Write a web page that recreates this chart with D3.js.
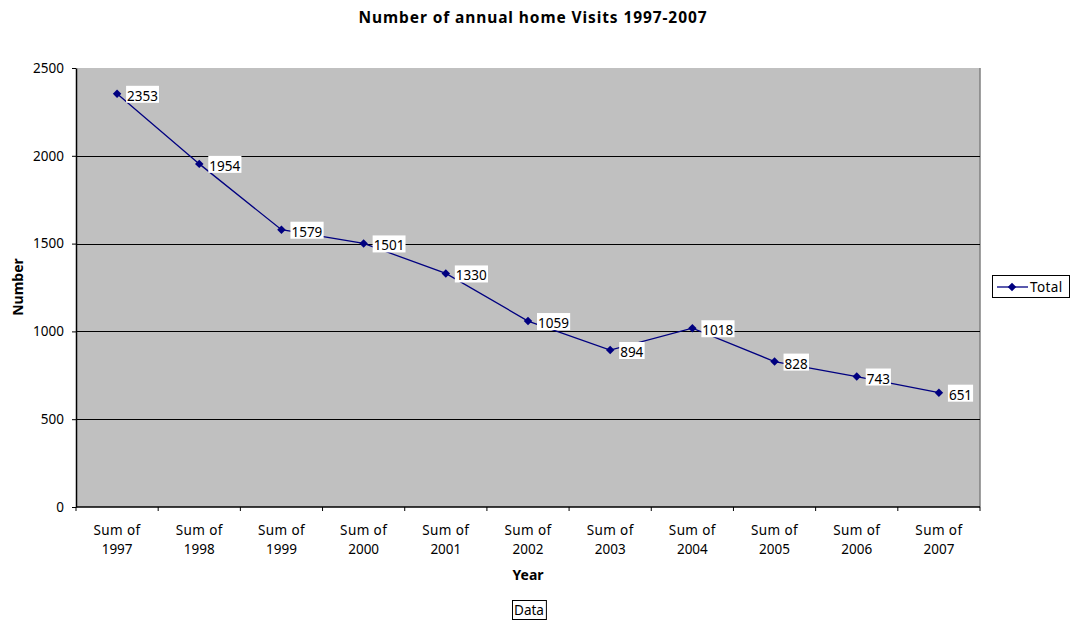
<!DOCTYPE html>
<html><head><meta charset="utf-8">
<script src="https://cdn.jsdelivr.net/npm/d3@7"></script>
<style>body{margin:0;background:#fff;}svg{display:block;font-family:"Noto Sans","DejaVu Sans",sans-serif;}</style>
</head><body>
<svg id="c" width="1074" height="622"></svg>
<script>
const categories = ["Sum of 1997","Sum of 1998","Sum of 1999","Sum of 2000","Sum of 2001","Sum of 2002","Sum of 2003","Sum of 2004","Sum of 2005","Sum of 2006","Sum of 2007"];
const totals = [2353,1954,1579,1501,1330,1059,894,1018,828,743,651];
const yTicks = [0,500,1000,1500,2000,2500];
const seriesName = "Total";

const FS = 13.5;
const svg = d3.select("#c");
const L=76, R=980, T=68, B=507;
const x = d3.scaleBand().domain(categories).range([L,R]);
const y = d3.scaleLinear().domain([0,2500]).range([B,T]);

svg.append("rect").attr("x",L).attr("y",T).attr("width",R-L).attr("height",B-T).attr("fill","#c0c0c0");
svg.append("line").attr("x1",R).attr("x2",R).attr("y1",T).attr("y2",B).attr("stroke","#808080").attr("stroke-width",1.5);

svg.append("g").selectAll("line").data(yTicks.filter(d=>d>0 && d<2500)).join("line")
  .attr("x1",L).attr("x2",R).attr("y1",d=>Math.round(y(d))+0.5).attr("y2",d=>Math.round(y(d))+0.5)
  .attr("stroke","#000").attr("stroke-width",1);

const ya = svg.append("g").attr("transform",`translate(${L},0)`)
  .call(d3.axisLeft(y).tickValues(yTicks).tickSize(4).tickPadding(8).tickSizeOuter(0).tickFormat(d3.format("d")));
ya.select(".domain").attr("stroke","#000").attr("stroke-width",1.5);
ya.selectAll("text").attr("font-size",FS).attr("fill","#000").attr("font-family","Noto Sans");

const xa = svg.append("g").attr("transform",`translate(0,${B})`);
xa.append("line").attr("x1",L).attr("x2",R).attr("y1",0).attr("y2",0).attr("stroke","#000").attr("stroke-width",1.5);
const bounds = categories.map(c=>x(c)).concat([R]);
xa.selectAll("line.t").data(bounds).join("line").attr("class","t")
  .attr("x1",d=>d).attr("x2",d=>d).attr("y1",0).attr("y2",4).attr("stroke","#000");
const lbl = xa.selectAll("text.c").data(categories).join("text").attr("class","c")
  .attr("text-anchor","middle").attr("font-size",FS).attr("fill","#000")
  .attr("transform",d=>`translate(${x(d)+x.bandwidth()/2},0)`);
lbl.each(function(d){
  const parts = d.split(" ");
  const t = d3.select(this);
  t.append("tspan").attr("x",0).attr("y",28).attr("letter-spacing",0.4).text(parts.slice(0,2).join(" "));
  t.append("tspan").attr("x",0).attr("y",47).text(parts[2]);
});

const cx = d=>x(d)+x.bandwidth()/2;
const line = d3.line().x((d,i)=>cx(categories[i])).y(d=>y(d));
svg.append("path").datum(totals).attr("d",line).attr("fill","none").attr("stroke","#000080").attr("stroke-width",1.3);
const marker = d3.symbol().type(d3.symbolSquare).size(36);
svg.append("g").selectAll("path").data(totals).join("path")
  .attr("d",marker)
  .attr("transform",(d,i)=>`translate(${cx(categories[i])},${y(d)}) rotate(45)`).attr("fill","#000080");

const lg = svg.append("g");
totals.forEach((v,i)=>{
  const px = cx(categories[i])+10, py = y(v);
  const g = lg.append("g");
  const t = g.append("text").attr("x",px).attr("y",py+7).attr("font-size",FS).attr("fill","#000").text(v);
  const bb = t.node().getBBox();
  g.insert("rect","text").attr("x",bb.x-1).attr("y",py-8).attr("width",bb.width+2).attr("height",17).attr("fill","#fff");
});

svg.append("text").attr("x",533).attr("y",23).attr("text-anchor","middle").attr("font-size",15.5).attr("letter-spacing",0.9).attr("font-weight","bold").text("Number of annual home Visits 1997-2007");
svg.append("text").attr("x",528).attr("y",580).attr("text-anchor","middle").attr("font-size",14).attr("font-weight","bold").text("Year");
svg.append("text").attr("transform","translate(23,287) rotate(-90)").attr("text-anchor","middle").attr("font-size",14).attr("font-weight","bold").text("Number");

// legend
const leg = svg.append("g");
leg.append("rect").attr("x",992.5).attr("y",275.5).attr("width",77).attr("height",22).attr("fill","#fff").attr("stroke","#000");
leg.append("line").attr("x1",997).attr("x2",1028).attr("y1",287).attr("y2",287).attr("stroke","#000080").attr("stroke-width",1.3);
leg.append("path").attr("d",marker).attr("transform","translate(1012,287) rotate(45)").attr("fill","#000080");
leg.append("text").attr("x",1030).attr("y",292).attr("font-size",FS).attr("letter-spacing",0.4).text(seriesName);

// Data button
const db = svg.append("g");
const dt = db.append("text").attr("x",529).attr("y",615).attr("text-anchor","middle").attr("font-size",FS).text("Data");
const dbb = dt.node().getBBox();
db.insert("rect","text").attr("x",Math.round(dbb.x-2)+0.5).attr("y",600.5).attr("width",dbb.width+4).attr("height",19).attr("fill","#fff").attr("stroke","#000");
</script>
</body></html>
